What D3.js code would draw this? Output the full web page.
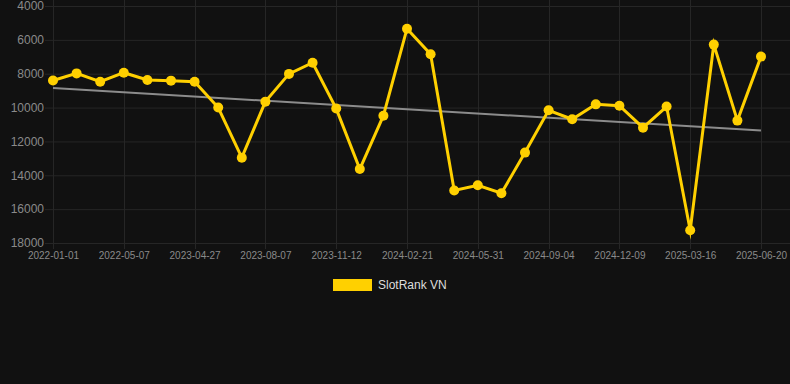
<!DOCTYPE html>
<html><head><meta charset="utf-8">
<script src="https://cdn.jsdelivr.net/npm/d3@7"></script>
<style>html,body{margin:0;padding:0;background:#111111;}svg{display:block;}</style>
</head><body>
<svg id="c" width="790" height="384"></svg>
<script>
const dates = ["2022-01-01","2022-02-13","2022-03-28","2022-05-07","2022-06-19","2022-08-01","2023-04-27","2023-05-30","2023-07-03","2023-08-07","2023-09-09","2023-10-11","2023-11-12","2023-12-14","2024-01-18","2024-02-21","2024-03-25","2024-04-27","2024-05-31","2024-07-02","2024-08-03","2024-09-04","2024-10-06","2024-11-07","2024-12-09","2025-01-10","2025-02-12","2025-03-16","2025-04-18","2025-05-19","2025-06-20"];
const tickLabels = ["2022-01-01","2022-05-07","2023-04-27","2023-08-07","2023-11-12","2024-02-21","2024-05-31","2024-09-04","2024-12-09","2025-03-16","2025-06-20"];
const values = [8400,7980,8470,7940,8370,8410,8470,10000,12960,9650,8010,7350,10060,13630,10480,5340,6850,14900,14590,15060,12660,10160,10690,9810,9890,11190,9940,17250,6280,10770,6990];
const trend = [8840,11360];
const yTicks = [4000,6000,8000,10000,12000,14000,16000,18000];
const seriesName = "SlotRank VN";

const svg = d3.select("#c");
const x = d3.scalePoint().domain(d3.range(dates.length)).range([53,761]);
const y = d3.scaleLinear().domain([4000,18000]).range([6,243]);
const grid = "#262626";

// horizontal grid
svg.append("g").selectAll("line").data(yTicks).join("line")
  .attr("x1",45).attr("x2",790).attr("y1",d=>y(d)+0.5).attr("y2",d=>y(d)+0.5)
  .attr("stroke",grid).attr("stroke-width",1);
// vertical grid
const tickIdx = tickLabels.map(t=>dates.indexOf(t));
svg.append("g").selectAll("line").data(tickIdx).join("line")
  .attr("x1",d=>Math.round(x(d))+0.5).attr("x2",d=>Math.round(x(d))+0.5).attr("y1",0).attr("y2",249)
  .attr("stroke",grid).attr("stroke-width",1);

// y axis labels
const yAxis = d3.axisLeft(y).tickValues(yTicks).tickSize(0).tickPadding(0).tickFormat(d=>String(d));
const ya = svg.append("g").attr("transform","translate(44,0)").call(yAxis);
ya.select(".domain").remove();
ya.selectAll("text").attr("fill","#8a8a8a").attr("font-family","'Liberation Sans',Arial,sans-serif").attr("font-size",12);

// x axis labels
const xAxis = d3.axisBottom(x).tickValues(tickIdx).tickSize(0).tickPadding(0).tickFormat(i=>dates[i]);
const xa = svg.append("g").attr("transform","translate(0,252)").call(xAxis);
xa.select(".domain").remove();
xa.selectAll("text").attr("fill","#8a8a8a").attr("font-family","'Liberation Sans',Arial,sans-serif").attr("font-size",10);

// trend line
svg.append("line")
  .attr("x1",x(0)).attr("x2",x(dates.length-1)).attr("y1",y(trend[0])).attr("y2",y(trend[1]))
  .attr("stroke","#8c8c8c").attr("stroke-width",2);

// series line
const line = d3.line().x((d,i)=>x(i)).y(d=>y(d));
svg.append("path").datum(values).attr("d",line)
  .attr("fill","none").attr("stroke","#FFD000").attr("stroke-width",3)
  .attr("stroke-linejoin","miter").attr("stroke-miterlimit",10);
svg.append("g").selectAll("circle").data(values).join("circle")
  .attr("cx",(d,i)=>x(i)).attr("cy",d=>y(d)).attr("r",5).attr("fill","#FFD000");

// legend
const lg = svg.append("g");
lg.append("rect").attr("x",333).attr("y",279).attr("width",39).attr("height",12).attr("fill","#FFD000");
lg.append("text").attr("x",378).attr("y",289).text(seriesName)
  .attr("fill","#dddddd").attr("font-family","'Liberation Sans',Arial,sans-serif").attr("font-size",12);
</script>
</body></html>
